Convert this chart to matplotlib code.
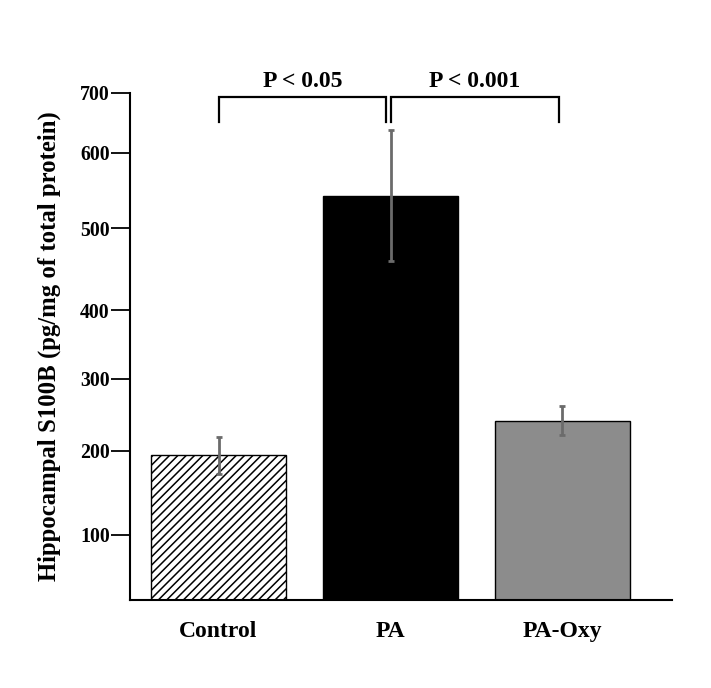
import numpy as np
import matplotlib
matplotlib.use("Agg")
import matplotlib.pyplot as plt

# data
groups = ["Control", "PA", "PA-Oxy"]
means = [195, 543, 242]
err_low = [173, 460, 222]
err_high = [219, 639, 262]
y_ticks = [100, 200, 300, 400, 500, 600, 700]
comparisons = [("P < 0.05", 0, 1), ("P < 0.001", 1, 2)]

# the original axis is not evenly spaced: value -> height (px above the x axis)
scale_vals = [0, 100, 200, 300, 400, 500, 600, 700]
scale_px = [0, 65, 149, 221, 290, 372, 447, 507]


def fwd(v):
    return np.interp(v, scale_vals, scale_px)


def inv(p):
    return np.interp(p, scale_px, scale_vals)


plt.rcParams["font.family"] = ["Liberation Serif", "DejaVu Serif"]
plt.rcParams["font.weight"] = "bold"
plt.rcParams["hatch.linewidth"] = 1.1

fig = plt.figure(figsize=(7.11, 6.88), dpi=100)
ax = fig.add_axes([130 / 711, 1 - 600 / 688, 542 / 711, 507 / 688])
ax.set_yscale("function", functions=(fwd, inv))

x = np.arange(len(groups))
face = ["white", "black", "#8c8c8c"]
hatch = ["////", None, None]
for i in range(len(groups)):
    ax.bar(x[i], means[i], width=0.785, color=face[i], edgecolor="black",
           linewidth=1.0, hatch=hatch[i], zorder=2)

yerr = [np.array(means) - np.array(err_low), np.array(err_high) - np.array(means)]
ax.errorbar(x, means, yerr=yerr, fmt="none", ecolor="#6b6b6b",
            elinewidth=2.0, capsize=2.5, capthick=2.0, zorder=3)

# significance brackets
top, leg = 694, 652
for k, (txt, a, b) in enumerate(comparisons):
    x0 = a + (0.0 if k == 0 else 0.003)
    x1 = b - (0.026 if k == 0 else 0.02)
    ax.plot([x0, x0, x1, x1], [leg, top, top, leg], color="black",
            lw=1.6, clip_on=False, solid_joinstyle="miter")
    ax.annotate(txt, xy=((x0 + x1) / 2, top), xytext=(0, 7),
                textcoords="offset points", ha="center", va="baseline",
                fontsize=17, fontweight="bold", annotation_clip=False)

ax.set_xlim(-0.515, 2.637)
ax.set_ylim(0, 700)
ax.set_yticks(y_ticks)
ax.set_yticklabels([str(t) for t in y_ticks])
ax.set_xticks(x)
ax.set_xticklabels(groups)
ax.tick_params(axis="y", direction="out", length=14, width=1.3, pad=0.5,
               labelsize=14.3)
ax.tick_params(axis="x", length=0, pad=15, labelsize=17)
for lab in ax.get_xticklabels() + ax.get_yticklabels():
    lab.set_fontweight("bold")

ax.set_ylabel("Hippocampal S100B (pg/mg of total protein)", fontsize=17.8,
              fontweight="bold", labelpad=14)

ax.spines["top"].set_visible(False)
ax.spines["right"].set_visible(False)
ax.spines["left"].set_linewidth(1.5)
ax.spines["bottom"].set_linewidth(1.5)

fig.savefig("out.png", dpi=100)
